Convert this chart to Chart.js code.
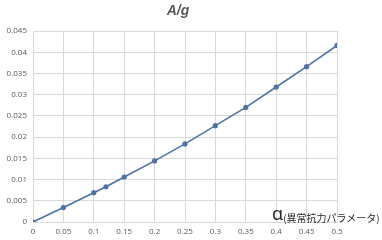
<!DOCTYPE html>
<html>
<head>
<meta charset="utf-8">
<script src="https://cdn.jsdelivr.net/npm/chart.js@4"></script>
<style>
  html,body{margin:0;padding:0;background:#fff;}
  #wrap{position:relative;width:382px;height:240px;}
  #title{position:absolute;left:160px;top:2px;width:36px;text-align:center;
    font:italic bold 14px 'Liberation Sans',Arial,sans-serif;color:#595959;}
  #xlabel{position:absolute;left:272px;top:201px;white-space:nowrap;color:#262626;
    font-family:'Noto Sans CJK JP',sans-serif;}
  #xlabel .a{font:18px 'Noto Sans',sans-serif;vertical-align:2px;}
  #xlabel .t{font-size:10px;}
</style>
</head>
<body>
<div id="wrap">
  <canvas id="c" width="382" height="240"></canvas>
  <div id="title">A/g</div>
  <div id="xlabel"><span class="a">α</span><span class="t">(異常抗力パラメータ)</span></div>
</div>
<script>
// データ
const alphaVals = [0, 0.05, 0.1, 0.12, 0.15, 0.2, 0.25, 0.3, 0.35, 0.4, 0.45, 0.5];
const agVals    = [0, 0.0034, 0.0069, 0.0083, 0.0106, 0.0144, 0.0184, 0.0227, 0.0270, 0.0318, 0.0366, 0.0416];
const xTicks = ['0','0.05','0.1','0.15','0.2','0.25','0.3','0.35','0.4','0.45','0.5'];
const yTicks = ['0','0.005','0.01','0.015','0.02','0.025','0.03','0.035','0.04','0.045'];

const LINE = '#4f72a6';
const GRID = '#d9d9d9';
const TICK = {color:'#595959', font:{family:'Open Sans', size:8}};

new Chart(document.getElementById('c'), {
  type:'line',
  data:{
    datasets:[{
      data: alphaVals.map((x,i)=>({x, y:agVals[i]})),
      borderColor:LINE, backgroundColor:LINE, borderWidth:1.6,
      pointRadius:2.6, pointBackgroundColor:LINE, pointBorderWidth:0,
      tension:0, fill:false,
    }]
  },
  options:{
    responsive:false, animation:false,
    layout:{padding:{left:0, top:31, right:45, bottom:0}},
    plugins:{legend:{display:false}, tooltip:{enabled:false}},
    scales:{
      x:{
        type:'linear', min:0, max:0.5,
        afterBuildTicks:s=>{ s.ticks = xTicks.map(t=>({value:+t})); },
        ticks:{...TICK, padding:5, maxRotation:0, callback:(v,i)=>xTicks[i]},
        grid:{color:GRID, lineWidth:1, drawTicks:false},
        border:{color:GRID},
        afterFit:s=>{ s.height = 18; },
      },
      y:{
        min:0, max:0.045,
        afterBuildTicks:s=>{ s.ticks = yTicks.map(t=>({value:+t})); },
        ticks:{...TICK, padding:6, callback:(v,i)=>yTicks[i]},
        grid:{color:GRID, lineWidth:1, drawTicks:false},
        border:{color:GRID},
        afterFit:s=>{ s.width = 33; },
      }
    }
  }
});
</script>
</body>
</html>
